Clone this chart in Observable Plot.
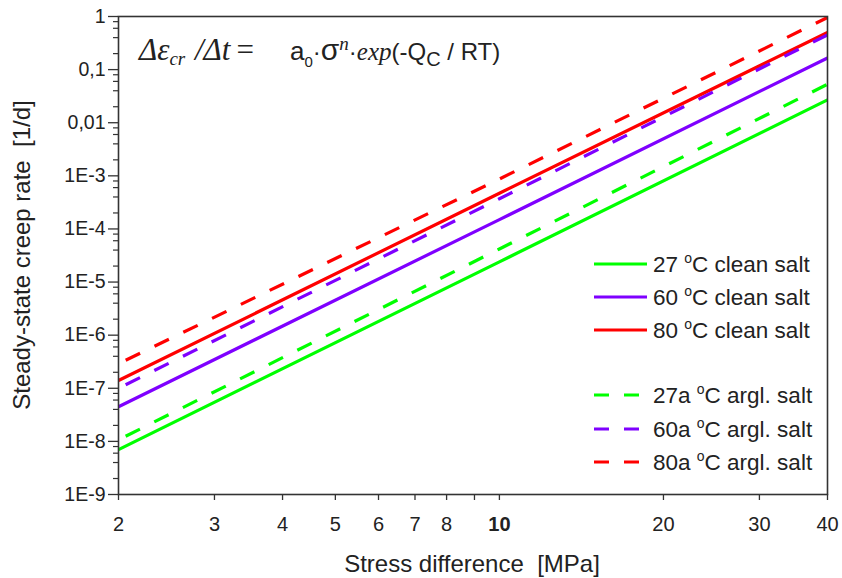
<!DOCTYPE html>
<html><head><meta charset="utf-8">
<script src="https://cdn.jsdelivr.net/npm/d3@7"></script>
<script src="https://cdn.jsdelivr.net/npm/@observablehq/plot@0.6"></script>
<style>body{margin:0;background:#fff} svg{display:block}</style>
</head><body><div id="chart"></div>
<script>
// ---- data ----
const stress = [2, 10, 40];                     // MPa
const rate27  = [7.0e-9, 2.4e-5, 0.027];
const rate60  = [4.5e-8, 1.5e-4, 0.165];
const rate80  = [1.4e-7, 4.7e-4, 0.50];
const rate27a = [1.07e-8, 4.2e-5, 0.053];
const rate60a = [1.0e-7, 3.7e-4, 0.45];
const rate80a = [2.9e-7, 8.7e-4, 0.96];
const seriesNames = ["27 °C clean salt", "60 °C clean salt", "80 °C clean salt",
                     "27a °C argl. salt", "60a °C argl. salt", "80a °C argl. salt"];
const legendLead = ["27 ", "60 ", "80 ", "27a ", "60a ", "80a "];
const legendTail = ["C clean salt", "C clean salt", "C clean salt", "C argl. salt", "C argl. salt", "C argl. salt"];
const seriesValues = [rate27, rate60, rate80, rate27a, rate60a, rate80a];
const seriesDashed = [false, false, false, true, true, true];
const seriesColors = ["#00ff00", "#7f00ff", "#ff0000", "#00ff00", "#7f00ff", "#ff0000"];
const xTicks = [2, 3, 4, 5, 6, 7, 8, 9, 10, 20, 30, 40];
const yTicks = [1e-9, 1e-8, 1e-7, 1e-6, 1e-5, 1e-4, 1e-3, 1e-2, 1e-1, 1];
const yTickLabels = ["1E-9", "1E-8", "1E-7", "1E-6", "1E-5", "1E-4", "1E-3", "0,01", "0,1", "1"];
const yMinorMult = [2, 4, 6, 8];
const xTitle = "Stress difference  [MPa]";
const yTitle = "Steady-state creep rate  [1/d]";

// ---- build table ----
const rows = seriesNames.flatMap((name, k) =>
  stress.map((x, i) => ({name, x, y: seriesValues[k][i], dashed: seriesDashed[k]})));
const yMinor = yTicks.slice(0, -1).flatMap(t => yMinorMult.map(m => m * t));

const FONT = "'Liberation Sans', Arial, Helvetica, sans-serif";
const SERIF = "'Liberation Serif', 'Times New Roman', serif";
const ink = "#222";

const plot = Plot.plot({
  width: 842, height: 578,
  marginLeft: 118, marginRight: 15, marginTop: 16, marginBottom: 84,
  style: {fontFamily: FONT, color: ink, background: "white", overflow: "visible"},
  x: {type: "log", domain: [2, 40]},
  y: {type: "log", domain: [1e-9, 1]},
  color: {domain: seriesNames, range: seriesColors},
  marks: [
    Plot.line(rows.filter(d => !d.dashed), {x: "x", y: "y", z: "name", stroke: "name", strokeWidth: 3.2, strokeLinecap: "butt"}),
    Plot.line(rows.filter(d => d.dashed), {x: "x", y: "y", z: "name", stroke: "name", strokeWidth: 3.2,
      strokeDasharray: "16,16", strokeDashoffset: 24, strokeLinecap: "butt"}),
    Plot.axisX({ticks: xTicks, tickSize: 6, tickPadding: 16, fontSize: 20, label: null,
      tickFormat: d => String(d), stroke: "#333", strokeWidth: 1.3}),
    Plot.axisY({ticks: yTicks, tickSize: 10, tickPadding: 3, fontSize: 19.5, label: null,
      tickFormat: d => yTickLabels[yTicks.indexOf(d)], stroke: "#333", strokeWidth: 1.3}),
    Plot.axisY({ticks: yMinor, tickSize: 5, label: null, tickFormat: () => "", stroke: "#333", strokeWidth: 1.2}),
    Plot.frame({stroke: "#333", strokeWidth: 1.6})
  ]
});
document.getElementById("chart").appendChild(plot);

const svg = d3.select(plot);
// bold "10"
svg.selectAll("text").filter(function(){ return this.textContent === "10"; }).attr("font-weight", "bold");

// axis titles
svg.append("text").attr("x", 472).attr("y", 572).attr("text-anchor", "middle")
  .attr("fill", ink).style("font-family", FONT).style("font-size", "24px").text(xTitle);
svg.append("text").attr("transform", "translate(30,255) rotate(-90)").attr("text-anchor", "middle")
  .attr("fill", ink).style("font-family", FONT).style("font-size", "24px").text(yTitle);

// equation (two text runs)
const mk = (x) => svg.append("text").attr("x", x).attr("y", 60).attr("text-anchor", "start")
  .attr("fill", ink).style("font-family", FONT).style("font-size", "24px");
const part = (el, t, o) => {
  const s = el.append("tspan").text(t);
  if (o.serif) s.style("font-family", SERIF);
  if (o.it) s.style("font-style", "italic");
  if (o.size) s.style("font-size", o.size + "px");
  if (o.dy) s.attr("dy", o.dy);
  if (o.dx) s.attr("dx", o.dx);
  return s;
};
const eq1 = mk(139);
part(eq1, "\u0394\u03B5", {serif: 1, it: 1, size: 31});
part(eq1, "cr", {serif: 1, it: 1, size: 19, dy: 5});
part(eq1, " /\u0394t", {serif: 1, it: 1, size: 31, dy: -5, dx: 2});
part(eq1, "=", {serif: 1, size: 31, dx: 6});
const eq2 = mk(290);
part(eq2, "a", {size: 26});
part(eq2, "0", {size: 15, dy: 7});
part(eq2, "\u00B7", {size: 24, dy: -7});
part(eq2, "\u03C3", {size: 30});
part(eq2, "n", {serif: 1, it: 1, size: 19, dy: -10});
part(eq2, "\u00B7", {size: 24, dy: 10});
part(eq2, "exp", {serif: 1, it: 1, size: 25});
part(eq2, "(-Q", {size: 24});
part(eq2, "C", {size: 20, dy: 6});
part(eq2, " / RT)", {size: 24, dy: -6});

// legend
const legY = [264, 297, 330, 395, 429, 462];
const lg = svg.append("g").attr("text-anchor", "start");
seriesNames.forEach((name, i) => {
  const y = legY[i];
  lg.append("line").attr("x1", 594).attr("x2", seriesDashed[i] ? 640 : 647).attr("y1", y).attr("y2", y)
    .attr("stroke", seriesColors[i]).attr("stroke-width", 3.2)
    .attr("stroke-dasharray", seriesDashed[i] ? "15,15" : null);
  const t = lg.append("text").attr("x", 653).attr("y", y + 8).attr("text-anchor", "start").attr("fill", ink)
    .style("font-family", FONT).style("font-size", "22.5px");
  t.append("tspan").text(legendLead[i]);
  t.append("tspan").text("o").style("font-size", "14px").attr("dy", -9);
  t.append("tspan").text(legendTail[i]).attr("dy", 9);
});
</script>
</body></html>
